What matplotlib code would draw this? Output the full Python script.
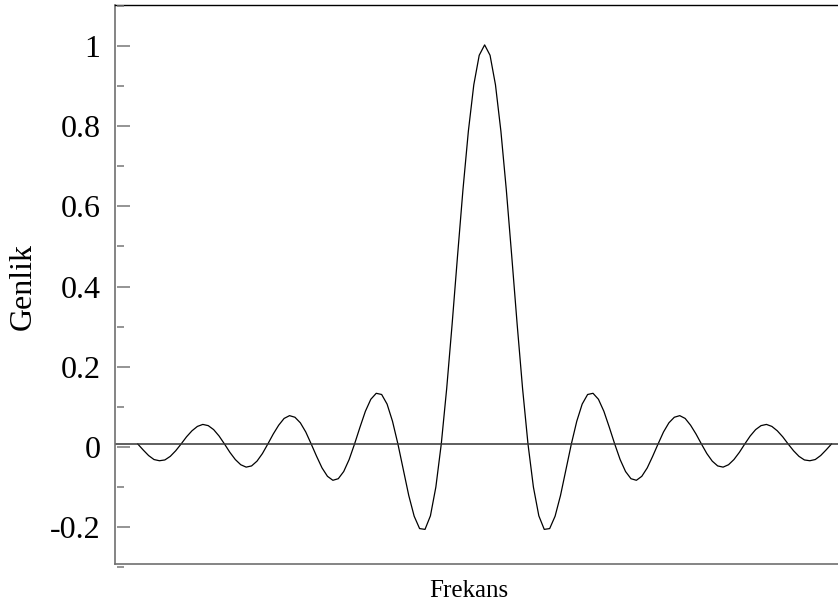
import numpy as np
import matplotlib
matplotlib.use("Agg")
import matplotlib.pyplot as plt

plt.rcParams['font.family'] = ['Liberation Serif', 'DejaVu Serif']

# frequency bins (index) and amplitude
freq = np.arange(-64, 65)
amp = [
    0.000, -0.015, -0.029, -0.039, -0.042, -0.040, -0.031, -0.017,
    0.000, 0.018, 0.033, 0.044, 0.049, 0.046, 0.036, 0.020,
    0.000, -0.021, -0.039, -0.052, -0.058, -0.055, -0.043, -0.024,
    0.000, 0.025, 0.047, 0.064, 0.071, 0.067, 0.053, 0.030,
    0.000, -0.031, -0.060, -0.081, -0.091, -0.087, -0.069, -0.039,
    0.000, 0.042, 0.082, 0.112, 0.127, 0.124, 0.100, 0.057,
    0.000, -0.065, -0.129, -0.181, -0.212, -0.214, -0.180, -0.108,
    0.000, 0.139, 0.300, 0.471, 0.637, 0.784, 0.900, 0.974,
    1.000,
    0.974, 0.900, 0.784, 0.637, 0.471, 0.300, 0.139, 0.000,
    -0.108, -0.180, -0.214, -0.212, -0.181, -0.129, -0.065, 0.000,
    0.057, 0.100, 0.124, 0.127, 0.112, 0.082, 0.042, 0.000,
    -0.039, -0.069, -0.087, -0.091, -0.081, -0.060, -0.031, 0.000,
    0.030, 0.053, 0.067, 0.071, 0.064, 0.047, 0.025, 0.000,
    -0.024, -0.043, -0.055, -0.058, -0.052, -0.039, -0.021, 0.000,
    0.020, 0.036, 0.046, 0.049, 0.044, 0.033, 0.018, 0.000,
    -0.017, -0.031, -0.040, -0.042, -0.039, -0.029, -0.015, 0.000,
]

major_ticks = [-0.2, 0.0, 0.2, 0.4, 0.6, 0.8, 1.0]
major_labels = ["-0.2", "0", "0.2", "0.4", "0.6", "0.8", "1"]
minor_ticks = [-0.3, -0.1, 0.1, 0.3, 0.5, 0.7, 0.9, 1.1]

W, H = 838, 607
fig = plt.figure(figsize=(W / 100, H / 100), dpi=100)

# main axes holding the curve
ax = fig.add_axes([115 / W, (H - 563.7) / H, (W - 115) / W, 558.7 / H])
ax.plot(freq, amp, color='black', lw=0.9)
ax.axhline(0, color='#333333', lw=1.1)
ax.set_xlim(-68.2, 65.2)
ax.set_ylim(-0.3, 1.1)
ax.set_xticks([])
ax.set_yticks([])
ax.spines['right'].set_visible(False)
ax.spines['top'].set_color('black')
ax.spines['top'].set_linewidth(1.0)
for s in ['left', 'bottom']:
    ax.spines[s].set_color('#707070')
    ax.spines[s].set_linewidth(1.2)

# tick axis, drawn a little offset like in the reference
axt = fig.add_axes([117 / W, (H - 566.7) / H, 0.05, 560.4 / H])
axt.patch.set_visible(False)
for s in axt.spines.values():
    s.set_visible(False)
axt.set_xticks([])
axt.set_ylim(-0.3, 1.1)
axt.set_yticks(major_ticks)
axt.set_yticklabels(major_labels)
axt.set_yticks(minor_ticks, minor=True)
axt.tick_params(axis='y', which='major', direction='in', length=9.4, width=1.1,
                color='#777777', labelsize=23, pad=12)
axt.tick_params(axis='y', which='minor', direction='in', length=5, width=1.1,
                color='#777777')

fig.text(469 / W, 1 - 597 / H, "Frekans", ha='center', va='baseline', fontsize=18)
fig.text(23 / W, 1 - 287 / H, "Genlik", ha='center', va='center', rotation=90, fontsize=23)

fig.savefig("out.png", dpi=100)
